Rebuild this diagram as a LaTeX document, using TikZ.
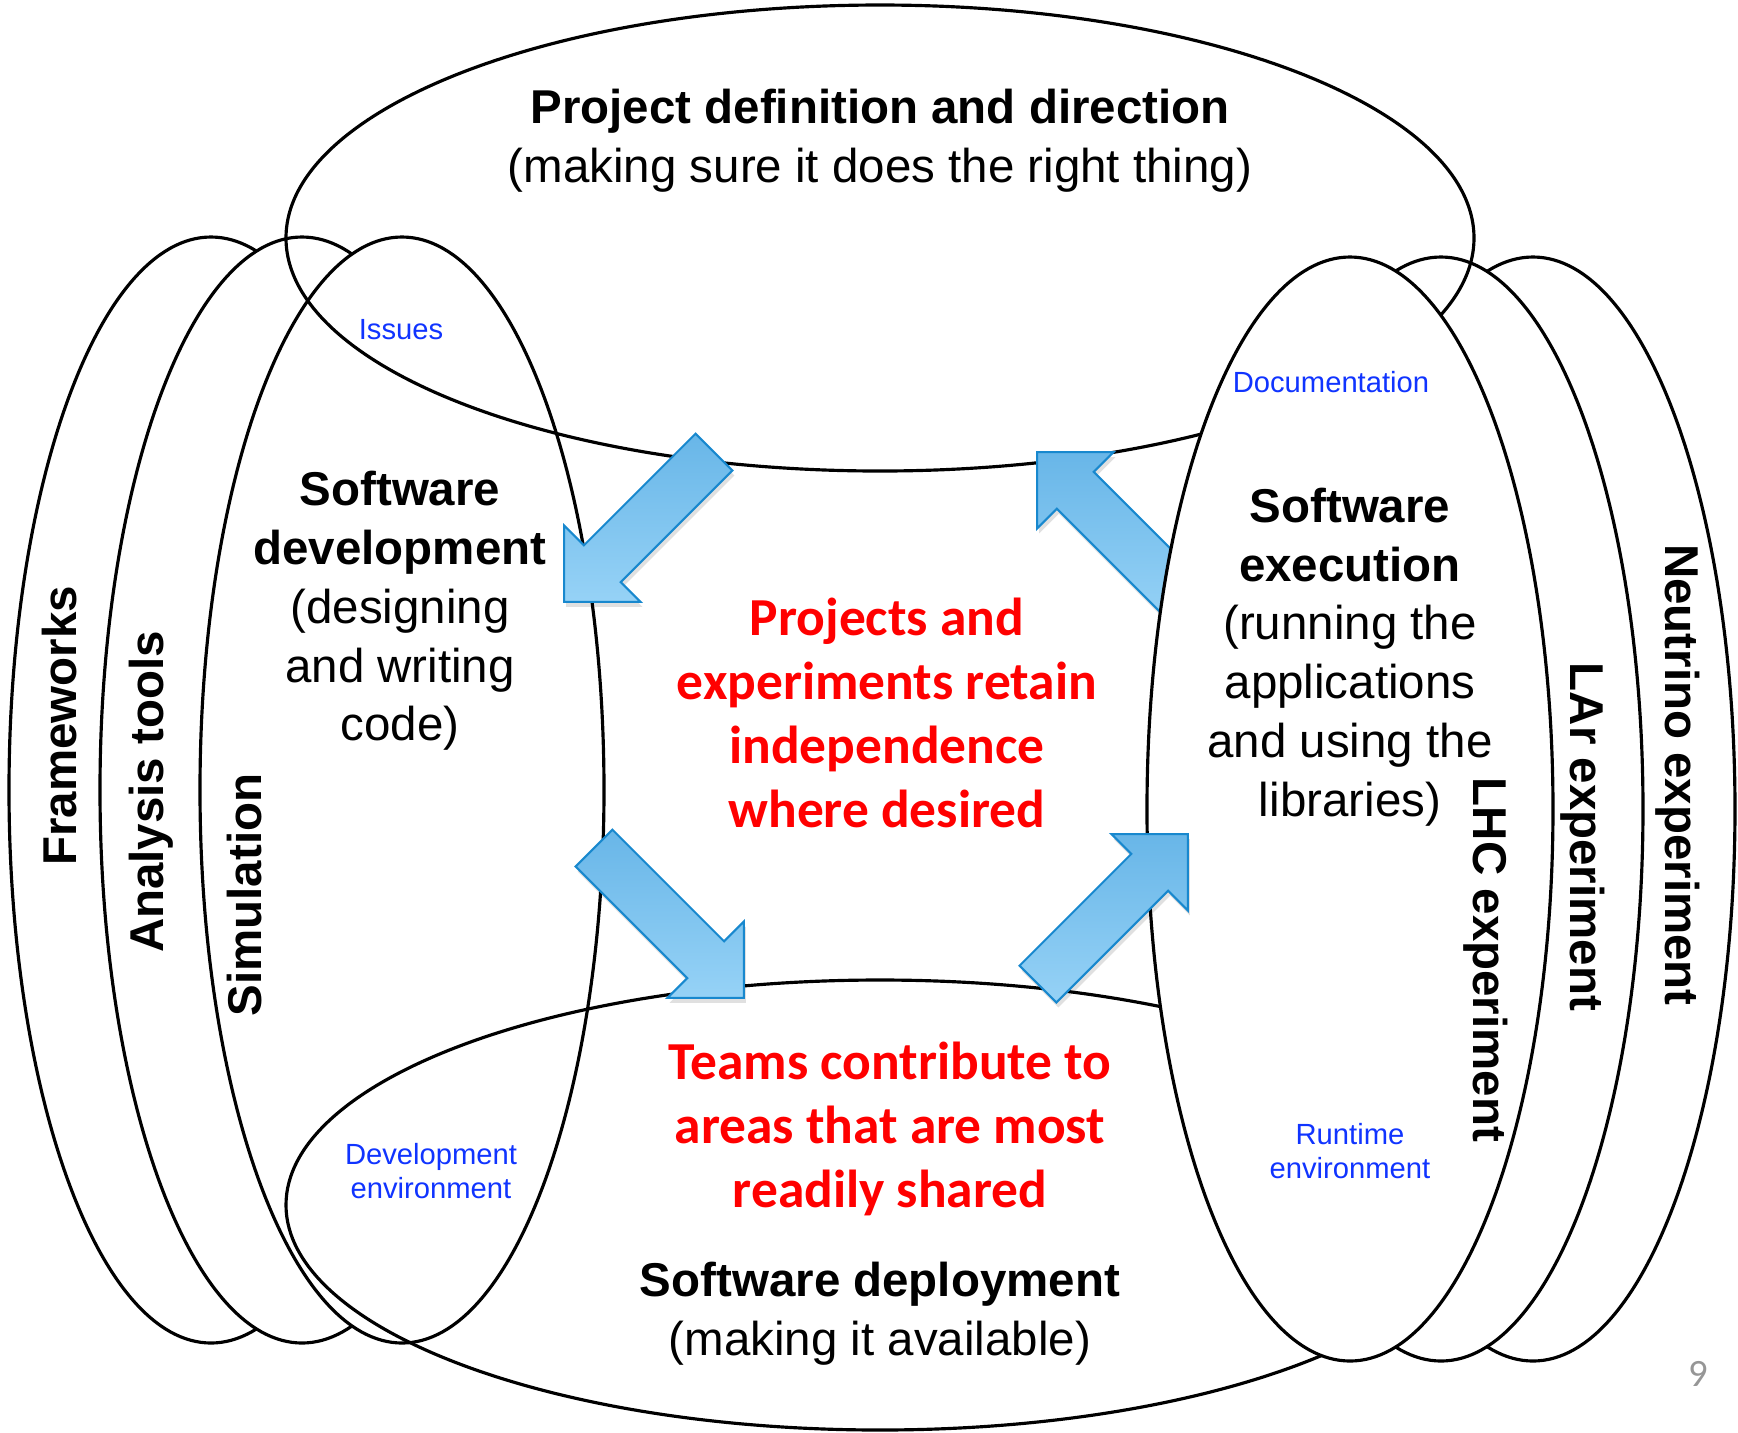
\documentclass[tikz,border=0pt]{standalone}
\usepackage{fontspec}
\setmainfont{Liberation Sans}
\newfontfamily\calibrifont{Carlito}
\usepackage{tikz}
\definecolor{arrowdark}{RGB}{104,182,232}
\definecolor{arrowlight}{RGB}{150,210,246}
\definecolor{arrowedge}{RGB}{24,136,206}
\definecolor{notesblue}{RGB}{16,52,255}
\definecolor{slidegray}{RGB}{150,150,150}

\tikzset{
  ring/.style={draw=black, line width=0.9pt, fill=white},
  hoop/.style={draw=black, line width=0.9pt},
  arrowbody/.style={draw=arrowedge, line width=0.6pt, top color=arrowdark, bottom color=arrowlight},
  arrowshadow/.style={fill=black, opacity=0.12},
  areatext/.style={font=\fontsize{13.5}{16.7}\selectfont, align=center},
  sidelabel/.style={font=\fontsize{13.5}{16.8}\selectfont\bfseries, text depth=0pt},
  claim/.style={font=\calibrifont\fontsize{15.2}{18.2}\selectfont\bfseries, text=red, align=center},
  note/.style={font=\fontsize{8.3}{9.8}\selectfont, text=notesblue, align=center},
  pics/bluearrow/.style={code={
    \path[pic actions] (0,-26) -- (158,-26) -- (158,-54) -- (212,0) -- (158,54) -- (158,26) -- (0,26) -- cycle;
  }},
}

\begin{document}
\begin{tikzpicture}[x=0.01cm, y=-0.01cm]
  \useasboundingbox (0,0) rectangle (1738,1432);

  % Left stack: frameworks, analysis tools, simulation
  \draw[ring] (211,790) ellipse (202 and 553);
  \draw[ring] (302,790) ellipse (202 and 553);
  \draw[ring] (402,790) ellipse (202 and 553);

  % Right stack, outer two: neutrino and LAr experiments
  \draw[ring] (1533,809) ellipse (202 and 552);
  \draw[ring] (1441,809) ellipse (202 and 552);

  % Project definition (top) and deployment (bottom)
  \draw[hoop] (880,238) ellipse (594 and 233);
  \draw[hoop] (880,1205) ellipse (594 and 225);

  % execution back to definition, tail runs under the LHC ring
  \pic[rotate=135, arrowshadow] at (1189,607) {bluearrow};
  \pic[rotate=135, arrowbody] at (1187,602) {bluearrow};

  % LHC experiment
  \draw[ring] (1350,809) ellipse (203 and 552);

  % rest of the cycle
  \foreach \tx/\ty/\ang in {714/452/225, 594/848/315, 1038/984/45} {
    \pic[rotate=\ang, arrowshadow] at (\tx+2,\ty+5) {bluearrow};
    \pic[rotate=\ang, arrowbody] at (\tx,\ty) {bluearrow};
  }

  % Area texts
  \node[areatext] (direction) at (880,141) {\textbf{Project definition and direction}\\(making sure it does the right thing)};
  \node[areatext] (development) at (400,611) {\textbf{Software}\\\textbf{development}\\(designing\\and writing\\code)};
  \node[areatext] (execution) at (1350,657) {\textbf{Software}\\\textbf{execution}\\(running the\\applications\\and using the\\libraries)};
  \node[areatext] (deployment) at (880,1314) {\textbf{Software deployment}\\(making it available)};

  \node[claim] (independence) at (887,713) {Projects and\\experiments retain\\independence\\where desired};
  \node[claim] (sharing) at (890,1129) {Teams contribute to\\areas that are most\\readily shared};

  \node[note] (issues) at (401,330) {Issues};
  \node[note] (docs) at (1331,382) {Documentation};
  \node[note] (devenv) at (431,1171) {Development\\environment};
  \node[note] (runenv) at (1350,1151) {Runtime\\environment};

  % Labels along the stacked rings
  \node[sidelabel, rotate=90] (frameworks) at (59,726) {Frameworks};
  \node[sidelabel, rotate=90] (analysis) at (146,792) {Analysis tools};
  \node[sidelabel, rotate=90] (simulation) at (244,895) {Simulation};
  \node[sidelabel, rotate=-90] (lhc) at (1491,960) {LHC experiment};
  \node[sidelabel, rotate=-90] (lar) at (1588,837) {LAr experiment};
  \node[sidelabel, rotate=-90] (neutrino) at (1683,775) {Neutrino experiment};

  \node[font=\calibrifont\fontsize{11}{12}\selectfont, text=slidegray] (pagenum) at (1698,1374) {9};
\end{tikzpicture}
\end{document}
